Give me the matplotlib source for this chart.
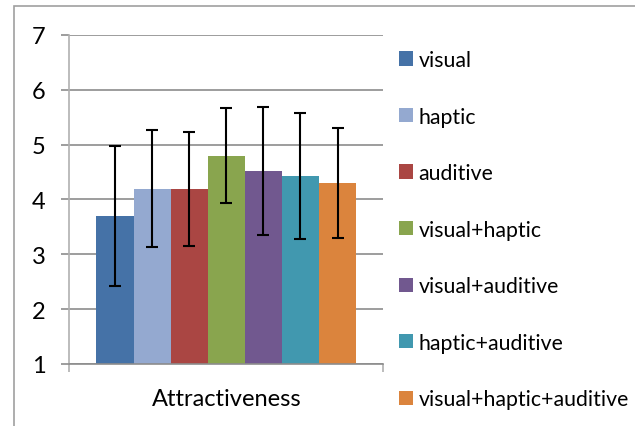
import matplotlib
matplotlib.use("Agg")
import matplotlib.pyplot as plt
from matplotlib.patches import Patch, Rectangle

# ---- data ----
category = "Attractiveness"
series = ["visual", "haptic", "auditive", "visual+haptic",
          "visual+auditive", "haptic+auditive", "visual+haptic+auditive"]
means = [3.70, 4.20, 4.20, 4.80, 4.52, 4.43, 4.30]
errors = [1.27, 1.07, 1.04, 0.87, 1.17, 1.15, 1.00]
colors = ["#4572A7", "#94A9D0", "#AA4643", "#89A54E",
          "#71588F", "#4198AF", "#DB843D"]
yticks = [1, 2, 3, 4, 5, 6, 7]

plt.rcParams["font.family"] = ["Lato", "DejaVu Sans"]
grid_col = "#8c8c8c"

fig = plt.figure(figsize=(6.35, 4.27), dpi=100)
ax = fig.add_axes([0.1091, 0.1452, 0.4945, 0.7705])

# chart area frame (extends past right/bottom edges like the original)
fig.patches.append(Rectangle((14 / 635, -0.1), 1.2, 1 - 7 / 427 + 0.1,
                             transform=fig.transFigure, fill=False,
                             edgecolor="#a0a0a0", linewidth=1.2))

n = len(series)
w = 0.827 / n
for i, (lab, m, e, c) in enumerate(zip(series, means, errors, colors)):
    x = (i - (n - 1) / 2) * w
    ax.bar(x, m - 1, bottom=1, width=w, color=c, label=lab, zorder=2)
    ax.errorbar(x, m, yerr=e, color="black", linewidth=1.5,
                capsize=4, capthick=1.5, zorder=3)

ax.set_xlim(-0.5, 0.5)
ax.set_ylim(1, 7)
ax.set_yticks(yticks)
ax.yaxis.grid(True, color=grid_col, linewidth=1.2, zorder=0)
ax.set_axisbelow(True)

ax.set_xticks([-0.5, 0.5])
ax.set_xticklabels(["", ""])
ax.tick_params(axis="x", length=6, width=1.2, color="#b0b0b0")
ax.tick_params(axis="y", length=6, width=1.2, color=grid_col,
               labelsize=17, pad=11)
ax.text(0.5, -0.106, category, transform=ax.transAxes, ha="center",
        va="center", fontsize=17)

for s in ["top", "right"]:
    ax.spines[s].set_visible(False)
ax.spines["left"].set_color("#b0b0b0")
ax.spines["left"].set_linewidth(1.2)
ax.spines["bottom"].set_color(grid_col)
ax.spines["bottom"].set_linewidth(1.2)

handles = [Patch(facecolor=c, label=s) for s, c in zip(series, colors)]
fig.legend(handles=handles, loc="upper left",
           bbox_to_anchor=(399 / 635, 1 - 51 / 427), frameon=False,
           fontsize=15.3, handlelength=0.66, handleheight=0.66,
           handletextpad=0.25, labelspacing=1.72, borderpad=0,
           borderaxespad=0)

fig.savefig("out.png", dpi=100)
